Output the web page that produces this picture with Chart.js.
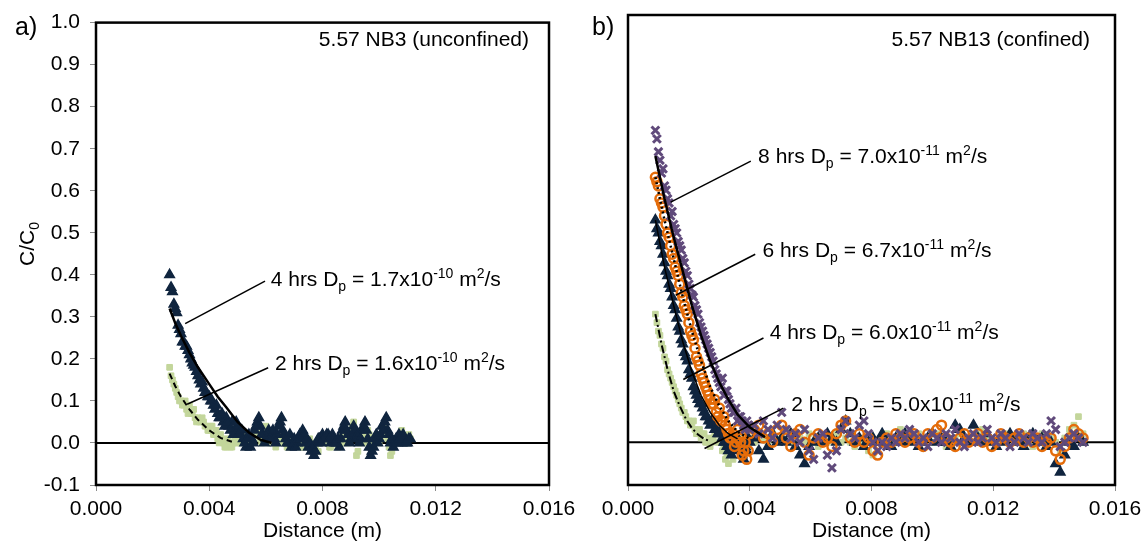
<!DOCTYPE html>
<html>
<head>
<meta charset="utf-8">
<script src="https://cdn.jsdelivr.net/npm/chart.js@4.4.1/dist/chart.umd.min.js"></script>
<style>
  body { margin: 0; background: #fff; }
  #wrap { position: relative; width: 1148px; height: 546px; overflow: hidden; }
  #wrap canvas { position: absolute; top: 0; }
</style>
</head>
<body>
<div id="wrap">
  <canvas id="panelA" width="600" height="546" style="left:0"></canvas>
  <canvas id="panelB" width="574" height="546" style="left:574px"></canvas>
</div>
<script>
// ---- panel a : 5.57 NB3 (unconfined) ----
const distA = [
  0.0026, 0.0027, 0.0028, 0.0029, 0.0030, 0.0031, 0.0032, 0.0033, 0.0034, 0.0035,
  0.0036, 0.0037, 0.0038, 0.0039, 0.0040, 0.0041, 0.0042, 0.0043, 0.0044, 0.0045,
  0.0046, 0.0047, 0.0048, 0.0049, 0.0050, 0.0051, 0.0052, 0.0053, 0.0054, 0.0055,
  0.0056, 0.0057, 0.0058, 0.0059, 0.0060, 0.0061, 0.0062, 0.0063, 0.0064, 0.0065,
  0.0066, 0.0067, 0.0068, 0.0069, 0.0070, 0.0071, 0.0072, 0.0073, 0.0074, 0.0075,
  0.0076, 0.0077, 0.0078, 0.0079, 0.0080, 0.0081, 0.0082, 0.0083, 0.0084, 0.0085,
  0.0086, 0.0087, 0.0088, 0.0089, 0.0090, 0.0091, 0.0092, 0.0093, 0.0094, 0.0095,
  0.0096, 0.0097, 0.0098, 0.0099, 0.0100, 0.0101, 0.0102, 0.0103, 0.0104, 0.0105,
  0.0106, 0.0107, 0.0108, 0.0109, 0.0110, 0.0111,
];
const a4hrs = [
  0.40, 0.36, 0.32, 0.28, 0.26, 0.24, 0.23, 0.21, 0.19, 0.18,
  0.16, 0.14, 0.13, 0.12, 0.11, 0.10, 0.08, 0.07, 0.06, 0.05,
  0.06, 0.04, 0.05, 0.03, 0.04, 0.02, 0.01, -0.01, 0.02, 0.01,
  0.03, 0.05, 0.04, 0.02, 0.01, 0.03, 0.02, 0.01, 0.02, 0.05,
  0.03, 0.01, 0.00, -0.01, 0.01, 0.00, 0.02, 0.03, 0.00, -0.01,
  -0.02, -0.03, 0.00, 0.01, 0.02, 0.01, 0.02, 0.00, 0.01, 0.00,
  -0.01, 0.03, 0.05, 0.02, 0.01, 0.04, 0.01, 0.00, 0.03, 0.05,
  0.01, -0.03, -0.01, 0.02, 0.01, 0.04, 0.05, 0.03, 0.00, -0.01,
  0.01, 0.02, 0.00, 0.01, 0.00, 0.01,
];
const a2hrs = [
  0.18, 0.15, 0.13, 0.11, 0.10, 0.09, 0.08, 0.09, 0.07, 0.06,
  0.06, 0.05, 0.05, 0.04, 0.03, 0.04, 0.02, 0.01, 0.02, 0.00,
  -0.01, 0.00, -0.01, 0.01, 0.00, 0.02, 0.01, 0.00, 0.01, 0.02,
  0.03, 0.02, 0.01, 0.02, 0.04, 0.01, 0.00, 0.01, 0.00, 0.02,
  0.01, 0.00, -0.01, 0.00, 0.01, 0.00, -0.01, 0.00, 0.01, 0.00,
  -0.01, -0.02, 0.00, 0.01, 0.00, 0.01, 0.00, -0.01, 0.00, 0.01,
  0.00, 0.02, 0.01, 0.00, 0.03, 0.05, -0.03, 0.00, 0.01, 0.02,
  0.03, 0.00, -0.01, 0.01, 0.00, 0.02, 0.04, 0.01, -0.03, 0.00,
  0.01, 0.00, 0.03, 0.01, 0.00, 0.01,
];
// second set of readings, between the first ones
const distA2 = [
  0.00265, 0.00275, 0.00285, 0.00295, 0.00305, 0.00315, 0.00325, 0.00335, 0.00345, 0.00355,
  0.00365, 0.00375, 0.00385, 0.00395, 0.00405, 0.00415, 0.00425, 0.00435, 0.00445, 0.00455,
  0.00465, 0.00475, 0.00485, 0.00495, 0.00505, 0.00515, 0.00525, 0.00535, 0.00545, 0.00555,
  0.00565, 0.00575, 0.00585, 0.00595, 0.00605, 0.00615, 0.00625, 0.00635, 0.00645, 0.00655,
  0.00665, 0.00675, 0.00685, 0.00695, 0.00705, 0.00715, 0.00725, 0.00735, 0.00745, 0.00755,
  0.00765, 0.00775, 0.00785, 0.00795, 0.00805, 0.00815, 0.00825, 0.00835, 0.00845, 0.00855,
  0.00865, 0.00875, 0.00885, 0.00895, 0.00905, 0.00915, 0.00925, 0.00935, 0.00945, 0.00955,
  0.00965, 0.00975, 0.00985, 0.00995, 0.01005, 0.01015, 0.01025, 0.01035, 0.01045, 0.01055,
  0.01065, 0.01075, 0.01085, 0.01095, 0.01105,
];
const a4hrs2 = [
  0.37, 0.33, 0.31, 0.27, 0.24, 0.23, 0.22, 0.20, 0.185, 0.17,
  0.15, 0.145, 0.12, 0.11, 0.10, 0.09, 0.09, 0.06, 0.07, 0.04,
  0.05, 0.03, 0.02, 0.05, 0.02, 0.03, 0.00, 0.01, -0.01, 0.00,
  0.04, 0.06, 0.02, 0.00, 0.02, 0.01, 0.03, 0.00, 0.04, 0.06,
  0.02, 0.00, 0.02, 0.00, -0.01, 0.01, 0.01, 0.02, 0.01, 0.00,
  -0.01, -0.02, 0.01, 0.00, 0.01, 0.02, 0.01, 0.02, 0.00, 0.01,
  0.01, 0.04, 0.03, 0.00, 0.02, 0.03, 0.02, 0.01, 0.04, 0.03,
  -0.01, -0.02, 0.01, 0.00, 0.02, 0.03, 0.06, 0.02, 0.01, 0.00,
  0.00, 0.01, 0.02, 0.00, 0.01,
];
const a2hrs2 = [
  0.16, 0.14, 0.12, 0.10, 0.09, 0.10, 0.07, 0.07, 0.08, 0.05,
  0.05, 0.06, 0.04, 0.03, 0.04, 0.02, 0.03, 0.00, 0.01, -0.01,
  0.01, -0.01, 0.00, 0.00, 0.01, 0.00, 0.02, -0.01, 0.00, 0.01,
  0.02, 0.03, 0.00, 0.03, 0.02, 0.00, 0.01, -0.01, 0.01, 0.00,
  0.01, -0.01, 0.00, 0.01, 0.00, 0.01, 0.00, -0.01, 0.00, 0.01,
  0.00, -0.01, -0.02, 0.00, 0.01, 0.00, -0.01, 0.01, 0.00, -0.01,
  0.01, 0.00, 0.02, 0.01, 0.04, 0.02, -0.02, 0.01, 0.00, 0.01,
  0.02, -0.01, 0.00, 0.01, 0.01, 0.03, 0.02, -0.01, -0.02, 0.01,
  0.00, 0.02, 0.01, 0.00, 0.02,
];
const fitA4x = [0.0026, 0.0028, 0.0030, 0.0033, 0.0036, 0.0040, 0.0043, 0.0046, 0.0050, 0.0054, 0.0058, 0.0062];
const fitA4y = [0.32, 0.285, 0.255, 0.215, 0.18, 0.14, 0.11, 0.085, 0.05, 0.025, 0.008, 0.0];
const fitA2x = [0.0026, 0.0028, 0.0030, 0.0033, 0.0036, 0.0040, 0.0044, 0.0048];
const fitA2y = [0.165, 0.135, 0.11, 0.08, 0.055, 0.03, 0.012, 0.003];

// ---- panel b : 5.57 NB13 (confined) ----
const distB = [
  0.0009, 0.0010, 0.0011, 0.0012, 0.0013, 0.0014, 0.0015, 0.0016, 0.0017, 0.0018,
  0.0019, 0.0020, 0.0021, 0.0022, 0.0023, 0.0024, 0.0025, 0.0026, 0.0027, 0.0028,
  0.0029, 0.0030, 0.0031, 0.0032, 0.0033, 0.0034, 0.0035, 0.0036, 0.0037, 0.0038,
  0.0039, 0.0040,
  0.00415, 0.0043, 0.00445, 0.0046, 0.00475, 0.0049, 0.00505, 0.0052, 0.00535, 0.0055,
  0.00565, 0.0058, 0.00595, 0.0061, 0.00625, 0.0064, 0.00655, 0.0067, 0.00685, 0.0070,
  0.00715, 0.0073, 0.00745, 0.0076, 0.00775, 0.0079, 0.00805, 0.0082, 0.00835, 0.0085,
  0.00865, 0.0088, 0.00895, 0.0091, 0.00925, 0.0094, 0.00955, 0.0097, 0.00985, 0.0100,
  0.01015, 0.0103, 0.01045, 0.0106, 0.01075, 0.0109, 0.01105, 0.0112, 0.01135, 0.0115,
  0.01165, 0.0118, 0.01195, 0.0121, 0.01225, 0.0124, 0.01255, 0.0127, 0.01285, 0.0130,
  0.01315, 0.0133, 0.01345, 0.0136, 0.01375, 0.0139, 0.01405, 0.0142, 0.01435, 0.0145,
  0.01465, 0.0148, 0.01495,
];
const b8hrs = [
  0.73, 0.68, 0.63, 0.60, 0.57, 0.53, 0.51, 0.49, 0.46, 0.43,
  0.40, 0.37, 0.345, 0.32, 0.30, 0.27, 0.25, 0.23, 0.21, 0.19,
  0.16, 0.14, 0.15, 0.12, 0.10, 0.08, 0.07, 0.05, 0.06, 0.04,
  0.05, 0.03,
  0.04, 0.02, 0.05, 0.03, 0.01, 0.04, 0.07, 0.03, 0.01, 0.02,
  0.00, 0.03, -0.02, -0.04, 0.01, 0.02, -0.03, -0.06, -0.02, 0.03,
  0.05, 0.02, 0.01, 0.04, 0.05, 0.02, 0.00, -0.02, 0.00, -0.01,
  0.01, 0.00, 0.02, 0.01, 0.03, 0.02, 0.00, 0.01, -0.01, 0.02,
  0.01, 0.00, 0.02, 0.01, 0.03, 0.00, -0.01, 0.01, 0.02, 0.00,
  0.01, 0.03, 0.01, 0.00, 0.02, 0.01, -0.01, 0.00, 0.02, 0.01,
  0.00, 0.02, 0.01, 0.00, 0.02, 0.05, 0.03, -0.01, 0.00, 0.01,
  0.02, 0.01, 0.00,
];
const b6hrs = [
  0.62, 0.60, 0.56, 0.53, 0.49, 0.46, 0.43, 0.40, 0.37, 0.34,
  0.31, 0.28, 0.25, 0.22, 0.19, 0.16, 0.14, 0.12, 0.10, 0.09,
  0.07, 0.08, 0.05, 0.04, 0.02, 0.01, -0.01, 0.03, 0.00, -0.02,
  -0.04, 0.02,
  0.03, 0.04, 0.01, 0.02, 0.00, 0.03, 0.04, 0.01, -0.01, 0.02,
  0.03, 0.00, -0.03, 0.01, 0.02, 0.00, 0.01, -0.01, 0.02, 0.04,
  0.05, 0.01, 0.00, 0.02, 0.00, 0.01, -0.02, -0.03, 0.00, 0.01,
  0.00, 0.02, 0.01, 0.00, 0.01, 0.02, 0.00, -0.01, 0.02, 0.01,
  0.03, 0.04, 0.01, 0.00, -0.01, 0.01, 0.02, 0.00, 0.01, 0.02,
  0.00, 0.01, -0.01, 0.00, 0.02, 0.01, 0.00, 0.01, 0.02, 0.00,
  0.01, 0.00, 0.01, -0.01, 0.00, 0.01, -0.02, -0.04, -0.01, 0.01,
  0.03, 0.02, 0.01,
];
const b4hrs = [
  0.52, 0.49, 0.46, 0.42, 0.39, 0.36, 0.32, 0.29, 0.26, 0.23,
  0.20, 0.17, 0.15, 0.12, 0.10, 0.09, 0.07, 0.06, 0.04, 0.05,
  0.03, 0.02, 0.01, 0.00, -0.02, -0.03, 0.00, 0.01, -0.01, -0.04,
  -0.02, 0.00,
  0.01, -0.02, -0.04, -0.01, 0.02, 0.00, 0.01, 0.00, 0.02, -0.01,
  -0.03, -0.05, -0.01, 0.00, 0.01, 0.00, 0.02, 0.01, 0.00, 0.03,
  0.05, 0.02, 0.00, 0.01, -0.01, 0.00, 0.01, 0.00, 0.02, 0.00,
  -0.01, 0.01, 0.00, 0.02, 0.00, 0.01, -0.01, 0.00, 0.01, 0.02,
  0.00, 0.01, 0.00, -0.01, 0.04, 0.03, 0.01, 0.00, 0.04, 0.01,
  0.00, 0.02, 0.00, -0.01, 0.01, 0.00, 0.02, 0.01, 0.00, -0.01,
  0.01, 0.02, 0.00, 0.01, -0.01, 0.00, -0.05, -0.07, -0.03, 0.00,
  -0.01, 0.01, 0.00,
];
const b2hrs = [
  0.30, 0.26, 0.23, 0.20, 0.17, 0.15, 0.13, 0.11, 0.09, 0.07,
  0.06, 0.05, 0.04, 0.03, 0.02, 0.01, 0.02, 0.00, -0.01, 0.01,
  0.02, 0.00, -0.02, -0.04, -0.05, -0.02, 0.00, -0.01, 0.01, -0.03,
  0.00, 0.01,
  0.00, -0.02, 0.01, 0.00, 0.02, 0.00, 0.01, 0.03, 0.00, -0.01,
  0.01, 0.00, 0.02, 0.00, -0.01, 0.01, 0.00, 0.01, 0.02, 0.00,
  0.01, 0.00, -0.01, 0.00, 0.01, -0.02, -0.03, 0.00, 0.01, 0.02,
  0.00, 0.01, 0.03, 0.01, 0.00, 0.01, 0.02, 0.00, 0.01, 0.00,
  0.02, 0.01, -0.01, 0.00, 0.01, 0.02, 0.00, 0.01, 0.00, 0.02,
  0.03, 0.01, 0.00, -0.01, 0.00, 0.02, 0.01, 0.00, 0.01, 0.02,
  0.00, -0.01, 0.01, 0.02, 0.00, 0.01, 0.00, -0.02, 0.01, 0.03,
  0.04, 0.06, 0.02,
];
// second readings on the steep front
const distB2 = [
  0.00095, 0.00105, 0.00115, 0.00125, 0.00135, 0.00145, 0.00155, 0.00165, 0.00175, 0.00185,
  0.00195, 0.00205, 0.00215, 0.00225, 0.00235, 0.00245, 0.00255, 0.00265, 0.00275, 0.00285,
  0.00295, 0.00305, 0.00315, 0.00325, 0.00335, 0.00345, 0.00355, 0.00365, 0.00375, 0.00385,
  0.00395,
];
const b8hrs2 = [
  0.71, 0.66, 0.64, 0.59, 0.56, 0.54, 0.50, 0.47, 0.45, 0.42,
  0.39, 0.36, 0.34, 0.31, 0.28, 0.26, 0.24, 0.22, 0.20, 0.17,
  0.15, 0.13, 0.11, 0.12, 0.09, 0.07, 0.08, 0.06, 0.05, 0.03,
  0.04,
];
const b6hrs2 = [
  0.61, 0.57, 0.55, 0.51, 0.48, 0.44, 0.41, 0.39, 0.35, 0.32,
  0.30, 0.26, 0.24, 0.20, 0.18, 0.15, 0.13, 0.11, 0.09, 0.10,
  0.06, 0.05, 0.06, 0.03, 0.01, 0.02, 0.00, 0.01, -0.03, 0.00,
  -0.02,
];
const b4hrs2 = [
  0.50, 0.47, 0.44, 0.40, 0.37, 0.34, 0.31, 0.27, 0.24, 0.21,
  0.19, 0.16, 0.13, 0.11, 0.09, 0.08, 0.06, 0.05, 0.05, 0.03,
  0.02, 0.03, 0.00, -0.01, 0.01, -0.01, -0.02, 0.00, -0.03, -0.01,
  0.01,
];
const b2hrs2 = [
  0.28, 0.25, 0.22, 0.19, 0.16, 0.14, 0.12, 0.10, 0.08, 0.07,
  0.05, 0.04, 0.05, 0.02, 0.03, 0.02, 0.00, 0.01, 0.00, 0.02,
  0.00, 0.01, -0.01, -0.03, -0.02, -0.04, -0.01, 0.01, -0.02, 0.00,
  -0.01,
];
const fitB8x = [0.0009, 0.0012, 0.0015, 0.0018, 0.0021, 0.0024, 0.0027, 0.0030, 0.0033, 0.0036, 0.0040, 0.0045];
const fitB8y = [0.67, 0.57, 0.48, 0.40, 0.32, 0.25, 0.19, 0.14, 0.10, 0.065, 0.035, 0.012];
const fitB6x = [0.0009, 0.0012, 0.0015, 0.0018, 0.0021, 0.0024, 0.0027, 0.0030, 0.0033, 0.0036, 0.0040];
const fitB6y = [0.62, 0.52, 0.43, 0.34, 0.26, 0.19, 0.13, 0.085, 0.05, 0.025, 0.008];
const fitB4x = [0.0009, 0.0012, 0.0015, 0.0018, 0.0021, 0.0024, 0.0027, 0.0030, 0.0033, 0.0036];
const fitB4y = [0.52, 0.41, 0.32, 0.235, 0.165, 0.11, 0.07, 0.04, 0.02, 0.008];
const fitB2x = [0.0009, 0.0011, 0.0013, 0.0015, 0.0017, 0.0019, 0.0021, 0.0023, 0.0025, 0.0027];
const fitB2y = [0.30, 0.23, 0.17, 0.12, 0.085, 0.055, 0.033, 0.018, 0.008, 0.002];

// fitted Dp labels
const hoursA = ["4", "2"];
const dpA = ["1.7", "1.6"];
const expA = ["-10", "-10"];
const hoursB = ["8", "6", "4", "2"];
const dpB = ["7.0", "6.7", "6.0", "5.0"];
const expB = ["-11", "-11", "-11", "-11"];

// where the labels and their leader lines sit (data units)
const placeA = [
  { tx: 0.00617, ty: 0.392, x1: 0.00597, y1: 0.385, x2: 0.00315, y2: 0.284 },
  { tx: 0.00632, ty: 0.193, x1: 0.00608, y1: 0.179, x2: 0.00322, y2: 0.092 },
];
const placeB = [
  { tx: 0.004275, ty: 0.672, x1: 0.004035, y1: 0.658, x2: 0.001402, y2: 0.562 },
  { tx: 0.004416, ty: 0.452, x1: 0.00418, y1: 0.440, x2: 0.001566, y2: 0.344 },
  { tx: 0.004653, ty: 0.259, x1: 0.00445, y1: 0.244, x2: 0.001816, y2: 0.147 },
  { tx: 0.005365, ty: 0.0913, x1: 0.005106, y1: 0.080, x2: 0.002515, y2: -0.0145 },
];

const FONT = "'Liberation Sans', Arial, sans-serif";
const NAVY = "#10253f";
const GREEN = "#c3d69b";
const ORANGE = "#e46c0a";
const PURPLE = "#604a7b";

function pts(xs, ys) {
  const out = [];
  for (let i = 0; i < xs.length; i++) {
    if (ys[i] !== undefined) out.push({ x: xs[i], y: ys[i] });
  }
  return out;
}

function dots(data, color, style, radius, order, fill, bw) {
  return {
    data: data,
    pointStyle: style,
    pointRadius: radius,
    backgroundColor: fill || color,
    borderColor: color,
    pointBorderWidth: bw || 1,
    order: order,
  };
}

function fitLine(data, width, dash) {
  return {
    data: data,
    showLine: true,
    pointRadius: 0,
    borderColor: "#000",
    borderWidth: width,
    borderDash: dash,
    order: 0,
  };
}

function drawNote(ctx, x, y, hrs, dp, exp) {
  const parts = [
    [hrs + " hrs D", 0], ["p", 1], [" = " + dp + "x10", 0], [exp, 2],
    [" m", 0], ["2", 2], ["/s", 0],
  ];
  let cx = x;
  ctx.textAlign = "left";
  ctx.textBaseline = "alphabetic";
  parts.forEach(([t, k]) => {
    ctx.font = (k ? 14 : 21) + "px " + FONT;
    const dy = k === 1 ? 5 : k === 2 ? -8 : 0;
    ctx.fillText(t, cx, y + dy);
    cx += ctx.measureText(t).width;
  });
}

function decor(cfg) {
  return {
    id: "decor",
    beforeDatasetsDraw(chart) {
      const { ctx, chartArea: a, scales } = chart;
      const y0 = scales.y.getPixelForValue(0);
      ctx.save();
      ctx.strokeStyle = "#000";
      ctx.lineWidth = 2;
      ctx.beginPath();
      ctx.moveTo(a.left, y0);
      ctx.lineTo(a.right, y0);
      ctx.stroke();
      ctx.restore();
    },
    afterDatasetsDraw(chart) {
      const { ctx, scales } = chart;
      const xs = scales.x, ys = scales.y;
      ctx.save();
      ctx.fillStyle = "#000";
      ctx.strokeStyle = "#000";
      ctx.lineWidth = 1.5;
      cfg.place.forEach((p, i) => {
        ctx.beginPath();
        ctx.moveTo(xs.getPixelForValue(p.x1), ys.getPixelForValue(p.y1));
        ctx.lineTo(xs.getPixelForValue(p.x2), ys.getPixelForValue(p.y2));
        ctx.stroke();
        drawNote(ctx, xs.getPixelForValue(p.tx), ys.getPixelForValue(p.ty) + 7.7,
          cfg.hours[i], cfg.dp[i], cfg.exp[i]);
      });
      ctx.restore();
    },
    afterDraw(chart) {
      const { ctx, chartArea: a } = chart;
      ctx.save();
      ctx.strokeStyle = "#000";
      ctx.lineWidth = 2.5;
      ctx.strokeRect(a.left, a.top, a.right - a.left, a.bottom - a.top);

      ctx.fillStyle = "#000";
      ctx.textBaseline = "middle";
      ctx.textAlign = "right";
      ctx.font = "21px " + FONT;
      ctx.fillText(cfg.title, a.right - cfg.titleInset, 40);

      ctx.textAlign = "left";
      ctx.textBaseline = "alphabetic";
      ctx.font = "25px " + FONT;
      ctx.fillText(cfg.letter, cfg.letterX, 35);

      if (cfg.yTitle) {
        ctx.translate(26.5, 244);
        ctx.rotate(-Math.PI / 2);
        ctx.font = "21px " + FONT;
        const w1 = ctx.measureText("C/C").width;
        ctx.font = "14px " + FONT;
        const w2 = ctx.measureText("0").width;
        const x0 = -(w1 + w2) / 2;
        ctx.font = "21px " + FONT;
        ctx.fillText("C/C", x0, 7.5);
        ctx.font = "14px " + FONT;
        ctx.fillText("0", x0 + w1, 12.5);
      }
      ctx.restore();
    },
  };
}

function options(showY, padding) {
  const tickFont = { family: FONT, size: 21 };
  return {
    responsive: false,
    animation: false,
    devicePixelRatio: 1,
    layout: { padding: padding },
    plugins: { legend: { display: false }, tooltip: { enabled: false } },
    scales: {
      x: {
        type: "linear",
        min: 0,
        max: 0.016,
        ticks: {
          stepSize: 0.004,
          callback: (v) => v.toFixed(3),
          font: tickFont,
          color: "#000",
          padding: 6,
          maxRotation: 0,
          autoSkip: false,
        },
        grid: { drawOnChartArea: false, tickLength: 6, tickColor: "#8c8c8c" },
        border: { display: false },
        title: {
          display: true,
          text: "Distance (m)",
          font: tickFont,
          color: "#000",
          padding: { top: 0, bottom: 2 },
        },
        afterFit: (s) => { s.height = 61; },
      },
      y: {
        type: "linear",
        display: showY,
        min: -0.1,
        max: 1.0,
        ticks: {
          stepSize: 0.1,
          callback: (v) => v.toFixed(1),
          font: tickFont,
          color: "#000",
          padding: 10,
        },
        grid: { drawOnChartArea: false, tickLength: 6, tickColor: "#8c8c8c" },
        border: { display: false },
        afterFit: (s) => { s.width = showY ? 96 : 0; },
      },
    },
  };
}

new Chart(document.getElementById("panelA"), {
  type: "scatter",
  data: {
    datasets: [
      fitLine(pts(fitA4x, fitA4y), 2.5, []),
      fitLine(pts(fitA2x, fitA2y), 2, [6, 4]),
      dots(pts(distA, a4hrs).concat(pts(distA2, a4hrs2)), NAVY, "triangle", 5.5, 1, null, 1.5),
      dots(pts(distA, a2hrs).concat(pts(distA2, a2hrs2)), GREEN, "rect", 4, 2),
    ],
  },
  options: options(true, { left: 0, right: 51, top: 15, bottom: 0 }),
  plugins: [decor({
    title: "5.57 NB3 (unconfined)", titleInset: 20, letter: "a)", letterX: 15,
    yTitle: true, place: placeA, hours: hoursA, dp: dpA, exp: expA,
  })],
});

new Chart(document.getElementById("panelB"), {
  type: "scatter",
  data: {
    datasets: [
      fitLine(pts(fitB8x, fitB8y), 2.5, []),
      fitLine(pts(fitB6x, fitB6y), 2.5, [2, 3]),
      fitLine(pts(fitB4x, fitB4y), 1.5, []),
      fitLine(pts(fitB2x, fitB2y), 2, [8, 3, 2, 3]),
      dots(pts(distB, b8hrs).concat(pts(distB2, b8hrs2)), PURPLE, "crossRot", 5.5, 1, null, 3),
      dots(pts(distB, b6hrs).concat(pts(distB2, b6hrs2)), ORANGE, "circle", 4.5, 2, "rgba(255,255,255,0)", 2.5),
      dots(pts(distB, b4hrs).concat(pts(distB2, b4hrs2)), NAVY, "triangle", 5.5, 3, null, 1.5),
      dots(pts(distB, b2hrs).concat(pts(distB2, b2hrs2)), GREEN, "rect", 4, 4),
    ],
  },
  options: options(false, { left: 54, right: 33, top: 15, bottom: 0 }),
  plugins: [decor({
    title: "5.57 NB13 (confined)", titleInset: 25, letter: "b)", letterX: 18,
    yTitle: false, place: placeB, hours: hoursB, dp: dpB, exp: expB,
  })],
});
</script>
</body>
</html>
